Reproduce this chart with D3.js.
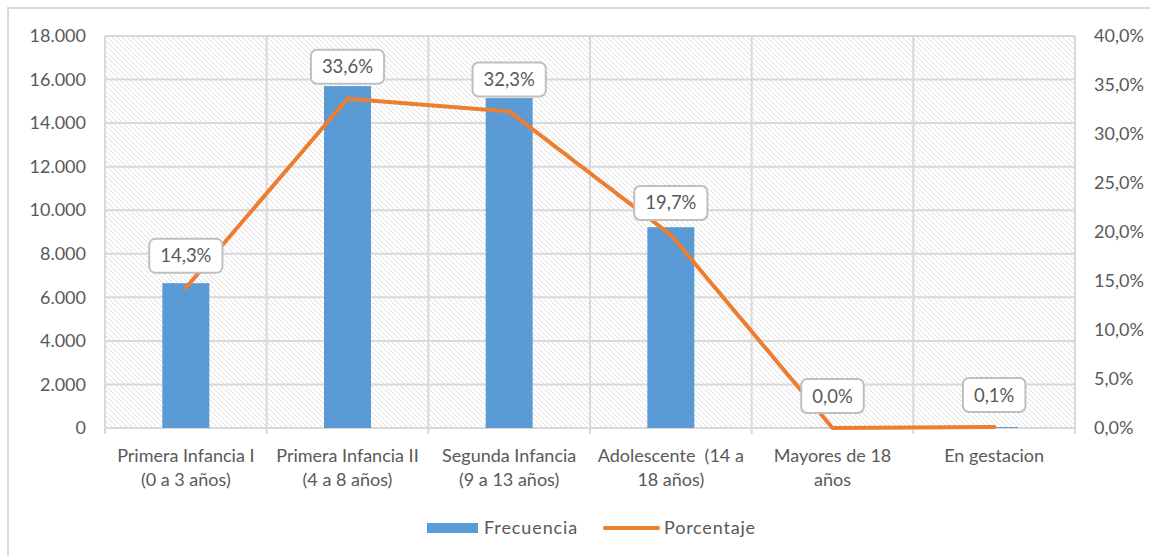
<!DOCTYPE html>
<html>
<head>
<meta charset="utf-8">
<script src="https://cdn.jsdelivr.net/npm/d3@7/dist/d3.min.js"></script>
<style>
  html, body { margin: 0; padding: 0; background: #fff; }
  svg { display: block; }
  text { font-family: Lato, "Open Sans", sans-serif; fill: #595959; white-space: pre; }
</style>
</head>
<body>
<svg id="chart" width="1150" height="556"></svg>
<script>
// Age groups (two-line axis labels)
const categories = [
  ["Primera Infancia I", "(0 a 3 años)"],
  ["Primera Infancia II", "(4 a 8 años)"],
  ["Segunda Infancia", "(9 a 13 años)"],
  ["Adolescente  (14 a", "18 años)"],
  ["Mayores de 18", "años"],
  ["En gestacion"]
];
// Frequency per group (bars, left axis)
const frecuencia = [6650, 15700, 15150, 9220, 10, 45];
// Share of total per group (line, right axis)
const porcentaje = [0.143, 0.336, 0.323, 0.197, 0.000, 0.001];
// Axis tick values
const leftTicks = [0, 2000, 4000, 6000, 8000, 10000, 12000, 14000, 16000, 18000];
const rightTicks = [0, 0.05, 0.10, 0.15, 0.20, 0.25, 0.30, 0.35, 0.40];
const legendLabels = ["Frecuencia", "Porcentaje"];

const esLocale = d3.formatLocale({ decimal: ",", thousands: ".", grouping: [3], currency: ["", " €"], percent: "%" });
const fmtNum = esLocale.format(",.0f");
const fmtPct = esLocale.format(".1%");

const BLUE = "#5B9BD5", ORANGE = "#ED7D31", GRID = "#d9d9d9";

const svg = d3.select("#chart");
const plot = { left: 105, right: 1075, top: 36, bottom: 428 };

// Outer chart frame
svg.append("path")
  .attr("d", "M8,560 L8,8 L1160,8")
  .attr("fill", "none").attr("stroke", GRID).attr("stroke-width", 2);

// Diagonal hatch used for the plot background
const defs = svg.append("defs");
const pat = defs.append("pattern")
  .attr("id", "hatch").attr("patternUnits", "userSpaceOnUse")
  .attr("width", 5).attr("height", 5);
pat.append("rect").attr("width", 5).attr("height", 5).attr("fill", "#fff");
pat.append("path")
  .attr("d", "M-1,-1 L6,6 M-1,4 L1,6 M4,-1 L6,1")
  .attr("stroke", "#dedede").attr("stroke-width", 1);

const x = d3.scaleBand().domain(d3.range(categories.length))
  .range([plot.left, plot.right]).paddingInner(0).paddingOuter(0);
const yL = d3.scaleLinear().domain([0, 18000]).range([plot.bottom, plot.top]);
const yR = d3.scaleLinear().domain([0, 0.40]).range([plot.bottom, plot.top]);

svg.append("rect")
  .attr("x", plot.left).attr("y", plot.top)
  .attr("width", plot.right - plot.left).attr("height", plot.bottom - plot.top)
  .attr("fill", "url(#hatch)");

// Horizontal gridlines
svg.append("g").selectAll("line").data(leftTicks).join("line")
  .attr("x1", plot.left).attr("x2", plot.right)
  .attr("y1", d => yL(d)).attr("y2", d => yL(d))
  .attr("stroke", GRID).attr("stroke-width", 2);

// Vertical category separators
const seps = d3.range(categories.length + 1).map(i => plot.left + i * x.bandwidth());
svg.append("g").selectAll("line").data(seps).join("line")
  .attr("x1", d => d).attr("x2", d => d)
  .attr("y1", plot.top).attr("y2", plot.bottom + 6)
  .attr("stroke", GRID).attr("stroke-width", 2);

// Left axis
const axL = svg.append("g").attr("transform", `translate(${plot.left},0)`)
  .call(d3.axisLeft(yL).tickValues(leftTicks).tickFormat(fmtNum).tickSize(0).tickPadding(19));
axL.select(".domain").remove();
axL.selectAll("text").style("font-size", "18px").attr("fill", "#595959")
  .style("font-family", "Lato, 'Open Sans', sans-serif");

// Right axis
const axR = svg.append("g").attr("transform", `translate(${plot.right},0)`)
  .call(d3.axisRight(yR).tickValues(rightTicks).tickFormat(fmtPct).tickSize(0).tickPadding(19));
axR.select(".domain").remove();
axR.selectAll("text").style("font-size", "18px").attr("fill", "#595959")
  .style("font-family", "Lato, 'Open Sans', sans-serif");

// Bars
const barW = 47;
svg.append("g").selectAll("rect").data(frecuencia).join("rect")
  .attr("x", (d, i) => x(i) + x.bandwidth() / 2 - barW / 2)
  .attr("y", d => yL(d))
  .attr("width", barW)
  .attr("height", d => yL(0) - yL(d))
  .attr("fill", BLUE);

// Percentage line
const line = d3.line()
  .x((d, i) => x(i) + x.bandwidth() / 2)
  .y(d => yR(d));
svg.append("path").datum(porcentaje)
  .attr("d", line)
  .attr("fill", "none").attr("stroke", ORANGE)
  .attr("stroke-width", 4).attr("stroke-linejoin", "round").attr("stroke-linecap", "round");

// Category labels
const catG = svg.append("g");
categories.forEach((lines, i) => {
  const t = catG.append("text")
    .attr("x", x(i) + x.bandwidth() / 2).attr("y", 462)
    .attr("text-anchor", "middle").style("font-size", "18px");
  lines.forEach((s, j) => {
    t.append("tspan").attr("x", x(i) + x.bandwidth() / 2)
      .attr("dy", j === 0 ? 0 : 24).text(s);
  });
});

// Data labels in rounded boxes above each line point
const lblG = svg.append("g");
porcentaje.forEach((p, i) => {
  const cx = x(i) + x.bandwidth() / 2;
  const cy = yR(p) - 32;
  const g = lblG.append("g");
  const t = g.append("text")
    .attr("x", cx).attr("y", cy + 6.5)
    .attr("text-anchor", "middle").style("font-size", "18.5px")
    .text(fmtPct(p));
  const w = t.node().getComputedTextLength() + 22;
  g.insert("rect", "text")
    .attr("x", cx - w / 2).attr("y", cy - 17)
    .attr("width", w).attr("height", 34)
    .attr("rx", 6).attr("ry", 6)
    .attr("fill", "#fff").attr("stroke", "#bfbfbf").attr("stroke-width", 2);
});

// Legend
const leg = svg.append("g");
leg.append("rect").attr("x", 427).attr("y", 523).attr("width", 51).attr("height", 10).attr("fill", BLUE);
leg.append("text").attr("x", 484).attr("y", 534).style("font-size", "18px")
  .style("letter-spacing", "0.9px").text(legendLabels[0]);
leg.append("line").attr("x1", 605).attr("x2", 658).attr("y1", 528).attr("y2", 528)
  .attr("stroke", ORANGE).attr("stroke-width", 4).attr("stroke-linecap", "round");
leg.append("text").attr("x", 664).attr("y", 534).style("font-size", "18px")
  .style("letter-spacing", "0.8px").text(legendLabels[1]);
</script>
</body>
</html>
